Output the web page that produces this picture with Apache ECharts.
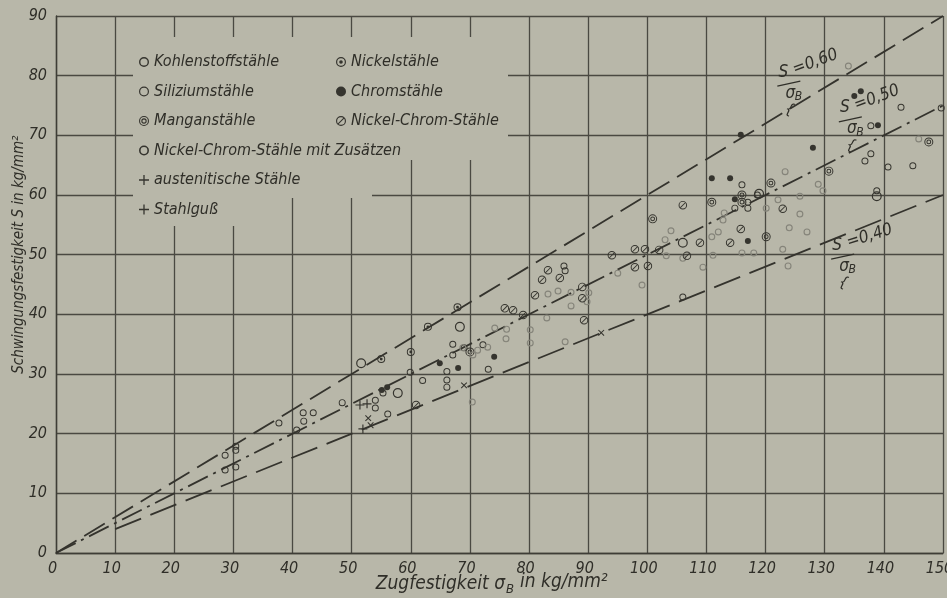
<!DOCTYPE html>
<html><head><meta charset="utf-8">
<script src="https://cdn.jsdelivr.net/npm/echarts@6/dist/echarts.min.js"></script>
<style>html,body{margin:0;padding:0;background:#b8b7a9;}#c{width:947px;height:598px;}</style>
</head><body><div id="c"></div>
<script>
// ---------- data ----------
const xTicks = [0,10,20,30,40,50,60,70,80,90,100,110,120,130,140,150];
const yTicks = [0,10,20,30,40,50,60,70,80,90];

const kohlenstoff = [[28.6,16.4],[30.4,17.9],[30.4,17.2],[28.6,13.9],[30.4,14.4],[37.7,21.8],[40.7,20.6],[41.8,23.5],[43.5,23.5],[41.9,22.1],[48.4,25.2],[54.0,25.6],[54.0,24.3],[56.1,23.3],[62.0,28.9],[66.1,30.4],[66.1,29.0],[66.1,27.8],[67.1,35.0],[67.1,33.2],[69.0,34.4],[72.2,34.9],[73.1,30.8],[85.9,48.1],[86.1,47.3],[106.0,42.9],[116.0,61.7],[117.0,58.8],[117.0,57.8],[118.6,60.0],[114.8,57.8],[136.8,65.7],[137.8,66.9],[140.7,64.7],[144.9,64.9],[137.8,71.6],[142.9,74.7],[138.8,60.7],[149.7,74.6],[59.9,30.3],[55.3,26.8]];
const silizium = [[51.6,31.8],[68.3,37.9],[57.8,26.8],[106.0,52.0],[138.8,59.8],[118.9,60.2]];
const mangan = [[70.0,33.7],[100.9,56.0],[110.9,58.8],[116.0,60.0],[116.0,58.8],[120.9,62.0],[130.7,64.0],[147.6,68.9],[120.1,53.0]];
const nickel = [[55.0,32.5],[60.0,33.7],[62.9,37.9],[67.9,41.2]];
const chrom = [[55.1,27.3],[56.0,27.8],[64.9,31.8],[68.0,31.0],[74.1,32.9],[110.9,62.8],[114.0,62.8],[114.8,59.3],[117.0,52.3],[115.8,70.1],[128.0,67.9],[135.0,76.6],[136.1,77.4],[139.0,71.7]];
const nickelChrom = [[60.9,24.8],[75.9,41.0],[77.3,40.7],[79.0,39.9],[81.0,43.2],[82.2,45.8],[83.2,47.4],[85.2,46.1],[89.0,44.6],[89.0,42.7],[89.3,39.0],[94.0,49.9],[97.9,50.9],[99.6,50.9],[102.0,50.8],[97.9,47.9],[100.1,48.1],[106.0,58.3],[106.7,49.8],[108.9,52.0],[114.0,52.0],[115.8,54.3],[122.9,57.7]];
const nickelChromZus = [[70.4,25.3],[74.2,37.7],[76.2,37.5],[76.1,35.9],[80.2,37.4],[80.2,35.2],[83.0,39.4],[86.1,35.4],[84.9,43.9],[87.1,43.7],[87.1,41.4],[89.8,42.1],[90.1,43.6],[83.2,43.4],[95.0,46.9],[99.1,44.9],[103.0,52.5],[104.0,54.0],[106.0,49.4],[103.2,49.8],[109.4,47.9],[111.1,49.9],[110.9,53.0],[112.0,53.8],[112.8,55.8],[113.0,57.0],[116.0,50.3],[118.0,50.3],[122.9,50.9],[123.8,48.1],[124.0,54.5],[127.0,53.8],[125.8,56.8],[125.8,59.8],[122.1,59.2],[123.3,63.9],[120.1,57.8],[128.9,61.8],[129.7,60.7],[134.0,81.6],[145.9,69.4],[68.8,34.4],[70.5,33.2],[71.3,34.0],[73.0,34.5]];
const austenitisch = [[52.8,22.6],[53.2,21.4],[69.0,28.1],[92.2,36.9]];
const stahlguss = [[51.4,24.8],[52.6,25.0],[51.9,20.8]];

const ratio060 = [[0,0],[150,90]];
const ratio050 = [[0,0],[150,75]];
const ratio040 = [[10,4],[150,60]];

// ---------- styles ----------
const bg = '#b8b7a9';
const ink = '#35342e';
const faint = '#85847a';
const font = "'DejaVu Sans Condensed','DejaVu Sans',sans-serif";

function circ(r, cw){
  const s = cw ? 1 : 0;
  return `M0 ${-r} A${r} ${r} 0 1 ${s} 0 ${r} A${r} ${r} 0 1 ${s} 0 ${-r} Z `;
}
const ring = (ri) => 'path://' + circ(10,true) + circ(ri,false);
const symKohle = ring(7.2);
const symSili = ring(7.6);
const symZus = ring(6.8);
const symMangan = 'path://' + circ(10,true) + circ(7.8,false) + circ(5.4,true) + circ(3.2,false);
const symNickel = 'path://' + circ(10,true) + circ(7.6,false) + circ(3.6,true);
const symNiCr = 'path://' + circ(10,true) + circ(7.7,false) + 'M-6.5 5 L5 -6.5 L6.5 -5 L-5 6.5 Z';
const symPlus = 'path://M-1.3 -10 L1.3 -10 L1.3 -1.3 L10 -1.3 L10 1.3 L1.3 1.3 L1.3 10 L-1.3 10 L-1.3 1.3 L-10 1.3 L-10 -1.3 L-1.3 -1.3 Z';

function sc(name, data, symbol, size, color, extra){
  return Object.assign({name, type:'scatter', data, symbol, symbolSize:size,
    itemStyle:{color, borderWidth:0, opacity:1}, z:3, silent:true}, extra||{});
}
function ln(data, dash){
  return {type:'line', data, showSymbol:false, symbol:'none', silent:true, z:2,
    lineStyle:{color:'#34332d', width:1.8, type:dash}};
}

const chart = echarts.init(document.getElementById('c'), null, {renderer:'canvas'});
const txt = {fontFamily:font, fontStyle:'italic', color:'#2f2e28'};

chart.setOption({
  backgroundColor: bg,
  animation:false,
  grid:{left:56, right:4, top:16, bottom:45, outerBoundsMode:'none', containLabel:false},
  xAxis:{type:'value', min:0, max:150, interval:10,
    axisLine:{show:true, lineStyle:{color:'#3e3d36', width:1.4}},
    axisTick:{show:false},
    splitLine:{show:true, lineStyle:{color:'#4a4942', width:1.3}},
    axisLabel:Object.assign({fontSize:16, margin:8, padding:[0,7,0,0], hideOverlap:false, formatter:(v)=>String(v)}, txt)},
  yAxis:{type:'value', min:0, max:90, interval:10,
    axisLine:{show:true, lineStyle:{color:'#3e3d36', width:1.4}},
    axisTick:{show:false},
    splitLine:{show:true, lineStyle:{color:'#4a4942', width:1.3}},
    axisLabel:Object.assign({fontSize:16, margin:9}, txt)},
  legend:[
    {left:134, top:49, orient:'vertical', itemGap:13.5, itemWidth:10, itemHeight:10, selectedMode:false,
     textStyle:Object.assign({fontSize:16, lineHeight:16}, txt),
     data:['Kohlenstoffstähle','Siliziumstähle','Manganstähle',
       {name:'Nickel-Chrom-Stähle mit Zusätzen', itemStyle:{color:ink}},
       'austenitische Stähle','Stahlguß']},
    {left:331, top:49, orient:'vertical', itemGap:13.5, itemWidth:10, itemHeight:10, selectedMode:false,
     textStyle:Object.assign({fontSize:16, lineHeight:16}, txt),
     data:['Nickelstähle','Chromstähle','Nickel-Chrom-Stähle']}
  ],
  series:[
    ln(ratio060,[24,9]),
    ln(ratio050,[22,6,3,6]),
    ln(ratio040,[28,10]),
    sc('Kohlenstoffstähle', kohlenstoff, symKohle, 7, ink),
    sc('Siliziumstähle', silizium, symSili, 10, ink),
    sc('Manganstähle', mangan, symMangan, 9, ink),
    sc('Nickel-Chrom-Stähle mit Zusätzen', nickelChromZus, symZus, 7, faint),
    sc('austenitische Stähle', austenitisch, symPlus, 8, ink, {symbolRotate:45}),
    sc('Stahlguß', stahlguss, symPlus, 9, ink),
    sc('Nickelstähle', nickel, symNickel, 8, ink),
    sc('Chromstähle', chrom, 'circle', 6, ink),
    sc('Nickel-Chrom-Stähle', nickelChrom, symNiCr, 8.5, ink)
  ]
});

// ---------- annotations ----------
function P(x,y){ return chart.convertToPixel({gridIndex:0},[x,y]); }
function fracLabel(anchor, val, rot){
  const p = P(anchor[0], anchor[1]);
  const f = {fontFamily:font, fontStyle:'italic', fill:'#2f2e28'};
  return {type:'group', x:p[0], y:p[1], z:10, children:[
    {type:'text', x:0, y:0, style:Object.assign({text:'S', fontSize:17, align:'center', verticalAlign:'middle'}, f)},
    {type:'line', shape:{x1:-6, y1:14, x2:17, y2:9}, style:{stroke:'#2f2e28', lineWidth:1.2}},
    {type:'text', x:7, y:21, style:Object.assign({text:'σ', fontSize:17, align:'center', verticalAlign:'middle'}, f)},
    {type:'text', x:15, y:25, style:Object.assign({text:'B', fontSize:12, align:'center', verticalAlign:'middle'}, f)},
    {type:'text', x:10, y:-2, rotation:rot, style:Object.assign({text:'=' + val, fontSize:17, align:'left', verticalAlign:'middle'}, f)},
    {type:'text', x:6, y:38, rotation:-0.3, style:Object.assign({text:'{', fontSize:15, align:'center', verticalAlign:'middle'}, f)}
  ]};
}
const yT = P(0,50);
chart.setOption({graphic:[
  {type:'rect', z:1, shape:{x:133, y:37, width:375, height:123}, style:{fill:bg}},
  {type:'rect', z:1, shape:{x:133, y:160, width:157, height:66}, style:{fill:bg}},
  {type:'rect', z:1, shape:{x:290, y:160, width:82, height:38}, style:{fill:bg}},
  fracLabel([123.0,80.6], '0,60', 0.35),
  fracLabel([133.4,74.6], '0,50', 0.35),
  fracLabel([132.1,51.6], '0,40', 0.3),
  {type:'text', x:19, y:yT[1], rotation:Math.PI/2, z:10,
   style:{text:'Schwingungsfestigkeit S in kg/mm²', fontFamily:font, fontStyle:'italic', fontSize:15, fill:'#2f2e28', align:'center', verticalAlign:'middle'}},
  {type:'text', x:505, y:584, z:10,
   style:{text:'Zugfestigkeit σ', fontFamily:font, fontStyle:'italic', fontSize:19, fill:'#2f2e28', align:'right', verticalAlign:'middle'}},
  {type:'text', x:506, y:590, z:10,
   style:{text:'B', fontFamily:font, fontStyle:'italic', fontSize:13, fill:'#2f2e28', align:'left', verticalAlign:'middle'}},
  {type:'text', x:520, y:582, z:10,
   style:{text:'in kg/mm²', fontFamily:font, fontStyle:'italic', fontSize:19, fill:'#2f2e28', align:'left', verticalAlign:'middle'}}
]});
</script></body></html>
